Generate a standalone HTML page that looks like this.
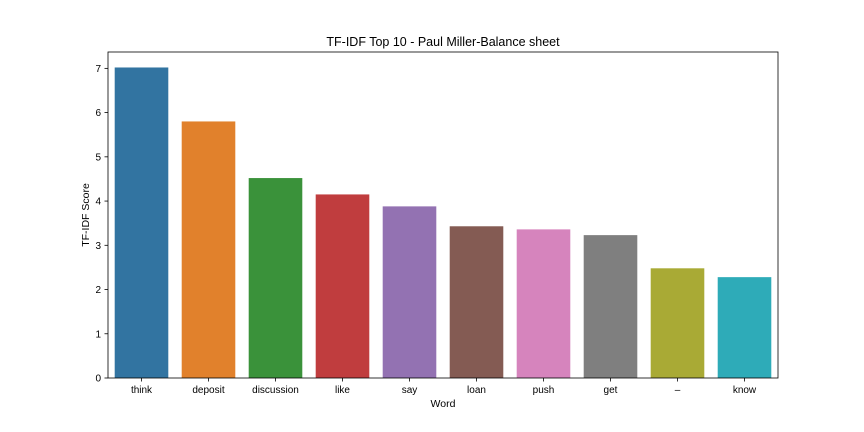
<!DOCTYPE html>
<html><head><meta charset="utf-8"><style>
html,body{margin:0;padding:0;background:#fff;}
svg{display:block;font-family:"Liberation Sans","DejaVu Sans",sans-serif;}
</style></head><body>
<svg id="chart" width="864" height="432" xmlns="http://www.w3.org/2000/svg">
<rect width="864" height="432" fill="#fff"/>
<text x="443" y="46" font-size="12.5" text-anchor="middle">TF-IDF Top 10 - Paul Miller-Balance sheet</text>
<g id="bars"></g>
<g id="axes"></g>
<text x="443" y="407" font-size="10.5" text-anchor="middle">Word</text>
<text transform="translate(89,215) rotate(-90)" font-size="10.5" text-anchor="middle">TF-IDF Score</text>
</svg>
<script>
const categories = ["think","deposit","discussion","like","say","loan","push","get","–","know"];
const values = [7.02,5.80,4.52,4.15,3.88,3.43,3.36,3.23,2.48,2.28];
const colors = ["#3274a1","#e1812c","#3a923a","#c03d3e","#9372b2","#845b53","#d684bd","#7f7f7f","#a9aa35","#2eabb8"];
const yTicks = [0,1,2,3,4,5,6,7];
const L=108,R=778,T=52,B=378,yMax=7.37;
const ns="http://www.w3.org/2000/svg";
function y(v){return B-(v/yMax)*(B-T);}
const band=(R-L)/categories.length;
function x(i){return L+band*i;}
const bars=document.getElementById('bars'), axes=document.getElementById('axes');
values.forEach((v,i)=>{
 const r=document.createElementNS(ns,'rect');
 r.setAttribute('x',x(i)+band*0.1);r.setAttribute('width',band*0.8);
 r.setAttribute('y',y(v));r.setAttribute('height',B-y(v));r.setAttribute('fill',colors[i]);
 
 
 bars.appendChild(r);
 const t=document.createElementNS(ns,'text');
 t.setAttribute('x',x(i)+band/2);t.setAttribute('y',B+15);t.setAttribute('font-size','10');t.setAttribute('text-anchor','middle');
 t.textContent=categories[i];
 
 
 axes.appendChild(t);
 const tk=document.createElementNS(ns,'line');
 tk.setAttribute('x1',x(i)+band/2);tk.setAttribute('x2',x(i)+band/2);tk.setAttribute('y1',B);tk.setAttribute('y2',B+3.5);tk.setAttribute('stroke','#000');tk.setAttribute('stroke-width','0.8');
 
 
 axes.appendChild(tk);
});
yTicks.forEach(v=>{
 const t=document.createElementNS(ns,'text');
 t.setAttribute('x',L-7);t.setAttribute('y',y(v)+3.5);t.setAttribute('font-size','10');t.setAttribute('text-anchor','end');
 t.textContent=v;
 
 
 axes.appendChild(t);
 const tk=document.createElementNS(ns,'line');
 tk.setAttribute('x1',L-3.5);tk.setAttribute('x2',L);tk.setAttribute('y1',y(v));tk.setAttribute('y2',y(v));tk.setAttribute('stroke','#000');tk.setAttribute('stroke-width','0.8');
 
 
 axes.appendChild(tk);
});
const fr=document.createElementNS(ns,'rect');
fr.setAttribute('x',L);fr.setAttribute('y',T);fr.setAttribute('width',R-L);fr.setAttribute('height',B-T);
fr.setAttribute('fill','none');fr.setAttribute('stroke','#000');fr.setAttribute('stroke-width','0.8');


axes.appendChild(fr);
</script>
</body></html>
